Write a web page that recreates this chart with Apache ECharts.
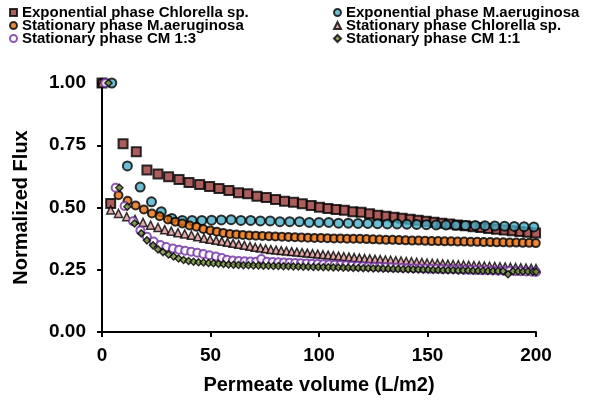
<!DOCTYPE html>
<html>
<head>
<meta charset="utf-8">
<script src="https://cdn.jsdelivr.net/npm/echarts@6/dist/echarts.min.js"></script>
<style>
  html, body { margin: 0; padding: 0; background: #fff; }
  #chart { width: 591px; height: 400px; }
</style>
</head>
<body>
<div id="chart"></div>
<script>
// series data: [permeate volume (L/m2), normalized flux]
const expChlorella = [[0,1.0],[4,0.516],[9.7,0.756],[15.8,0.724],[20.7,0.651],[25.8,0.635],[30.7,0.623],[35.5,0.612],[40.1,0.600],[45,0.592],[49.6,0.584],[53.9,0.576],[58.5,0.568],[62.9,0.559],[67.2,0.555],[71.4,0.545],[75.7,0.540],[80,0.532],[84.1,0.525],[88.3,0.521],[92.3,0.515],[96.4,0.508],[100.2,0.501],[104.1,0.496],[107.9,0.492],[111.7,0.489],[115.6,0.483],[119.4,0.481],[123.3,0.475],[127.1,0.469],[130.9,0.465],[134.6,0.461],[138.3,0.457],[142,0.453],[145.7,0.449],[149.4,0.445],[153,0.441],[156.6,0.437],[160.2,0.434],[163.8,0.430],[167.4,0.427],[171,0.423],[174.6,0.420],[178.2,0.416],[181.8,0.413],[185.4,0.410],[189,0.407],[192.6,0.404],[196.2,0.401],[199.8,0.398]]

const expMA = [[4.5,1.0],[11.7,0.667],[17.6,0.582],[22.8,0.523],[27.3,0.483],[32.2,0.456],[37,0.448],[41.5,0.448],[46,0.448],[50.5,0.449],[55,0.450],[59.5,0.451],[64,0.448],[68.5,0.448],[73,0.446],[77.5,0.446],[82,0.443],[86.5,0.443],[91,0.443],[95.5,0.440],[100,0.440],[104.5,0.440],[109,0.437],[113.5,0.437],[118,0.436],[122.5,0.436],[127,0.435],[131.5,0.434],[136,0.434],[140.5,0.433],[145,0.432],[149.5,0.431],[154,0.430],[158.5,0.430],[163,0.429],[167.5,0.428],[172,0.428],[176.5,0.427],[181,0.426],[185.5,0.425],[190,0.424],[194.5,0.423],[199,0.422]]

const statMA = [[0,1.0],[7.6,0.549],[11.8,0.527],[15.5,0.508],[19.3,0.492],[23,0.476],[26.6,0.465],[30.4,0.452],[33.8,0.443],[37,0.436],[40.4,0.428],[43.5,0.423],[46.7,0.414],[49.9,0.408],[52.9,0.403],[55.9,0.398],[58.9,0.394],[61.9,0.392],[64.9,0.390],[67.9,0.388],[70.9,0.387],[73.9,0.386],[76.9,0.385],[79.9,0.384],[82.9,0.383],[85.9,0.382],[88.9,0.381],[91.9,0.380],[94.9,0.379],[97.9,0.378],[100.9,0.378],[103.9,0.377],[106.9,0.376],[109.9,0.376],[112.9,0.375],[115.9,0.375],[118.9,0.374],[121.9,0.373],[124.9,0.372],[127.9,0.371],[130.9,0.370],[133.9,0.370],[136.9,0.369],[139.9,0.368],[142.9,0.367],[145.9,0.367],[148.9,0.366],[151.9,0.365],[154.9,0.365],[157.9,0.364],[160.9,0.364],[163.9,0.363],[166.9,0.363],[169.9,0.362],[172.9,0.362],[175.9,0.361],[178.9,0.361],[181.9,0.360],[184.9,0.360],[187.9,0.359],[190.9,0.359],[193.9,0.358],[196.9,0.358],[199.9,0.357]]

const statChlorella = [[0,1.0],[4,0.490],[7.6,0.476],[11.4,0.463],[15.2,0.452],[18.9,0.440],[22.4,0.429],[25.8,0.420],[28.9,0.411],[31.9,0.405],[35,0.399],[38.1,0.394],[41.2,0.389],[44.1,0.383],[47,0.377],[49.8,0.372],[52.6,0.368],[55.2,0.364],[57.8,0.360],[60.4,0.356],[63,0.352],[65.6,0.348],[68.2,0.344],[70.6,0.340],[73,0.337],[75.4,0.334],[77.8,0.331],[80.2,0.329],[82.6,0.327],[85,0.325],[87.4,0.323],[89.8,0.321],[92.2,0.319],[94.6,0.317],[97,0.315],[99.4,0.313],[101.8,0.311],[104.2,0.309],[106.6,0.307],[109,0.305],[111.4,0.303],[113.8,0.301],[116.2,0.299],[118.6,0.297],[121,0.295],[123.4,0.294],[125.8,0.292],[128.2,0.291],[130.6,0.289],[133,0.288],[135.4,0.286],[137.8,0.285],[140.2,0.283],[142.6,0.282],[145,0.280],[147.4,0.279],[149.8,0.277],[152.2,0.276],[154.6,0.275],[157,0.274],[159.4,0.272],[161.8,0.271],[164.2,0.270],[166.6,0.269],[169,0.268],[171.4,0.267],[173.8,0.266],[176.2,0.265],[178.6,0.264],[181,0.263],[183.4,0.262],[185.8,0.261],[188.2,0.260],[190.6,0.259],[193,0.258],[195.4,0.257],[197.8,0.256],[200,0.255]]

const statCM13 = [[1.5,1.0],[6.3,0.579],[10.4,0.506],[14.3,0.445],[17.7,0.408],[20.7,0.383],[23.8,0.363],[26.9,0.349],[29.6,0.341],[32.7,0.335],[35.5,0.330],[38.3,0.326],[41.1,0.322],[43.9,0.318],[46.7,0.313],[49.5,0.308],[52.5,0.303],[55.2,0.297],[57.6,0.290],[60.3,0.287],[63,0.285],[65.7,0.284],[68.4,0.283],[71,0.282],[73.4,0.293],[76,0.282],[78.6,0.281],[81.2,0.280],[83.8,0.279],[86.4,0.278],[89,0.277],[91.6,0.276],[94.2,0.275],[96.8,0.274],[99.4,0.273],[102,0.272],[104.6,0.271],[107.2,0.270],[109.8,0.269],[112.4,0.268],[115,0.266],[117.6,0.265],[120.2,0.264],[122.8,0.263],[125.4,0.262],[128,0.262],[130.6,0.261],[133.2,0.260],[135.8,0.259],[138.4,0.258],[141,0.257],[143.6,0.256],[146.2,0.256],[148.8,0.255],[151.4,0.254],[154,0.254],[156.6,0.253],[159.2,0.252],[161.8,0.252],[164.4,0.251],[167,0.250],[169.6,0.250],[172.2,0.249],[174.8,0.248],[177.4,0.248],[180,0.247],[182.6,0.246],[185.2,0.246],[187.8,0.245],[190.4,0.244],[193,0.244],[195.6,0.243],[198.2,0.242],[200,0.241]]

const statCM11 = [[3,1.0],[8,0.579],[11.7,0.503],[15,0.436],[18.1,0.396],[20.7,0.368],[23.5,0.348],[25.8,0.332],[28.1,0.321],[30.7,0.311],[33,0.303],[35.3,0.295],[37.6,0.289],[39.9,0.285],[42.2,0.282],[44.5,0.280],[46.8,0.279],[49.1,0.277],[51.4,0.276],[53.7,0.274],[56,0.273],[58.3,0.271],[60.6,0.270],[62.9,0.269],[65.2,0.268],[67.5,0.268],[69.8,0.267],[72.1,0.267],[74.4,0.266],[76.7,0.266],[79,0.265],[81.3,0.265],[83.6,0.264],[85.9,0.264],[88.2,0.263],[90.5,0.263],[92.8,0.262],[95.1,0.262],[97.4,0.261],[99.7,0.261],[102,0.260],[104.3,0.260],[106.6,0.259],[108.9,0.259],[111.2,0.258],[113.5,0.258],[115.8,0.257],[118.1,0.257],[120.4,0.256],[122.7,0.256],[125,0.255],[127.3,0.255],[129.6,0.254],[131.9,0.254],[134.2,0.253],[136.5,0.253],[138.8,0.252],[141.1,0.252],[143.4,0.251],[145.7,0.251],[148,0.250],[150.3,0.250],[152.6,0.249],[154.9,0.249],[157.2,0.248],[159.5,0.248],[161.8,0.248],[164.1,0.247],[166.4,0.247],[168.7,0.247],[171,0.246],[173.3,0.246],[175.6,0.246],[177.9,0.245],[180.2,0.245],[182.5,0.245],[184.8,0.244],[187.1,0.232],[189.4,0.244],[191.7,0.243],[194,0.243],[196.3,0.243],[198.6,0.242],[200,0.242]]

const xTicks = { min: 0, max: 200, interval: 50 }
const yTicks = { min: 0, max: 1, interval: 0.25 }

const FONT = '"Liberation Sans", Arial, sans-serif'

const chart = echarts.init(document.getElementById('chart'))

// 散点系列
const scatter = (name, data, symbol, size, fill, border, bw) => ({
  name,
  type: 'scatter',
  data,
  symbol,
  symbolSize: size,
  itemStyle: { color: fill, borderColor: border, borderWidth: bw },
  emphasis: { disabled: true }
})

const legendText = { fontFamily: FONT, fontWeight: 'bold', fontSize: 15, lineHeight: 13, color: '#000' }
const axisFont = { fontFamily: FONT, fontWeight: 'bold', color: '#000' }

chart.setOption({
  animation: false,
  grid: { left: 102, right: 55, top: 83, bottom: 67 },
  legend: [
    {
      left: 9, top: 5, orient: 'vertical', itemGap: -2,
      itemWidth: 7, itemHeight: 7, padding: 0,
      textStyle: legendText,
      data: ['Exponential phase Chlorella sp.', 'Stationary phase M.aeruginosa', 'Stationary phase CM 1:3']
    },
    {
      left: 333, top: 5, orient: 'vertical', itemGap: -2,
      itemWidth: 7, itemHeight: 7, padding: 0,
      textStyle: legendText,
      data: ['Exponential phase M.aeruginosa', 'Stationary phase Chlorella sp.', 'Stationary phase CM 1:1']
    }
  ],
  xAxis: {
    type: 'value',
    min: xTicks.min, max: xTicks.max, interval: xTicks.interval,
    name: 'Permeate volume (L/m2)',
    nameLocation: 'middle',
    nameGap: 43,
    nameTextStyle: { ...axisFont, fontSize: 20 },
    axisLine: { lineStyle: { color: '#000', width: 2 } },
    axisTick: { length: 5, lineStyle: { color: '#000', width: 2 } },
    axisLabel: { ...axisFont, fontSize: 19, margin: 14 },
    splitLine: { show: false }
  },
  yAxis: {
    type: 'value',
    min: yTicks.min, max: yTicks.max, interval: yTicks.interval,
    name: 'Normalized Flux',
    nameLocation: 'middle',
    nameGap: 71,
    nameTextStyle: { ...axisFont, fontSize: 20 },
    axisLine: { show: true, lineStyle: { color: '#000', width: 2 } },
    axisTick: { show: true, length: 5, lineStyle: { color: '#000', width: 2 } },
    axisLabel: { ...axisFont, fontSize: 19, margin: 16, formatter: v => v.toFixed(2) },
    splitLine: { show: false }
  },
  series: [
    scatter('Exponential phase Chlorella sp.', expChlorella, 'rect', 9, '#953735', '#000', 2),
    scatter('Exponential phase M.aeruginosa', expMA, 'circle', 9, '#4BACC6', '#000', 2),
    scatter('Stationary phase M.aeruginosa', statMA, 'circle', 8, '#E46C0A', '#000', 2),
    scatter('Stationary phase Chlorella sp.', statChlorella, 'triangle', 8, '#D99694', '#000', 1.5),
    scatter('Stationary phase CM 1:3', statCM13, 'circle', 8, '#fff', '#7030A0', 2),
    scatter('Stationary phase CM 1:1', statCM11, 'diamond', 7, '#76923C', '#000', 1.5)
  ]
})

window.addEventListener('resize', () => chart.resize())
</script>
</body>
</html>
